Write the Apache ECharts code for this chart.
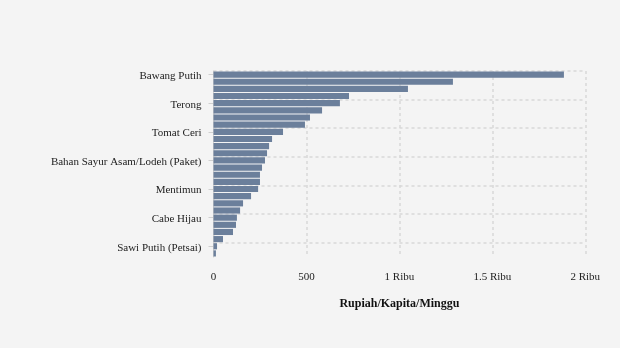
<!DOCTYPE html>
<html>
<head>
<meta charset="utf-8">
<script src="https://cdn.jsdelivr.net/npm/echarts@6/dist/echarts.min.js"></script>
<style>
html,body{margin:0;padding:0;background:#f4f4f4;}
#chart{width:620px;height:348px;}
</style>
</head>
<body>
<div id="chart"></div>
<script>
const categories = [
  "Bawang Putih", "Bawang Merah", "Cabe Merah", "Kentang",
  "Terong", "Wortel", "Buncis", "Kol/Kubis",
  "Tomat Ceri", "Tomat Sayur", "Cabe Rawit", "Kacang Panjang",
  "Bahan Sayur Asam/Lodeh (Paket)", "Bayam", "Kangkung", "Sawi Hijau",
  "Mentimun", "Labu Siam", "Tauge", "Daun Bawang",
  "Cabe Hijau", "Jagung Muda", "Petai", "Jengkol",
  "Sawi Putih (Petsai)", "Seledri"
];
const values = [
  1885, 1288, 1046, 729,
  680, 584, 519, 492,
  374, 315, 299, 288,
  277, 261, 250, 250,
  240, 202, 159, 143,
  126, 121, 105, 51,
  19, 13
];
const xTicks = [0, 500, 1000, 1500, 2000];
const xAxisName = "Rupiah/Kapita/Minggu";

const chart = echarts.init(document.getElementById('chart'), null, {renderer: 'canvas'});
const font = "'Liberation Serif', 'DejaVu Serif', serif";
const grid = '#d8d8d8';
chart.setOption({
  backgroundColor: '#f4f4f4',
  animation: false,
  textStyle: {fontFamily: font},
  grid: {left: 213.5, right: 34.7, top: 71, bottom: 91, containLabel: false},
  xAxis: {
    type: 'value',
    min: xTicks[0],
    max: xTicks[xTicks.length - 1],
    interval: xTicks[1] - xTicks[0],
    name: xAxisName,
    nameLocation: 'middle',
    nameGap: 41,
    nameTextStyle: {fontFamily: font, fontWeight: 'bold', fontSize: 12, color: '#111'},
    axisLine: {show: false},
    axisTick: {show: false},
    axisLabel: {
      fontFamily: font, fontSize: 11, color: '#222', margin: 15,
      formatter: function (v) { return v >= 1000 ? (v / 1000) + ' Ribu' : String(v); }
    },
    splitLine: {show: true, lineStyle: {color: grid, width: 1.5, type: [3, 3]}}
  },
  yAxis: {
    type: 'category',
    data: categories,
    inverse: true,
    axisLine: {show: true, lineStyle: {color: '#d0d0d0', width: 1}},
    axisTick: {show: true, interval: 3, alignWithLabel: true, length: 5, lineStyle: {color: '#d0d0d0'}},
    axisLabel: {
      interval: 3, margin: 12,
      formatter: function (v) { return '{a|' + v + '}'; },
      rich: {a: {fontFamily: font, fontSize: 11, color: '#222', padding: [3, 0, 0, 0]}}
    },
    splitLine: {show: true, interval: 3, lineStyle: {
      color: [grid, grid, grid, grid, grid, grid, grid, 'rgba(0,0,0,0)'],
      width: 1.5, type: [3, 3]
    }}
  },
  series: [{
    type: 'bar',
    data: values,
    barCategoryGap: '14%',
    itemStyle: {color: '#6b7f9b'}
  }]
});
</script>
</body>
</html>
